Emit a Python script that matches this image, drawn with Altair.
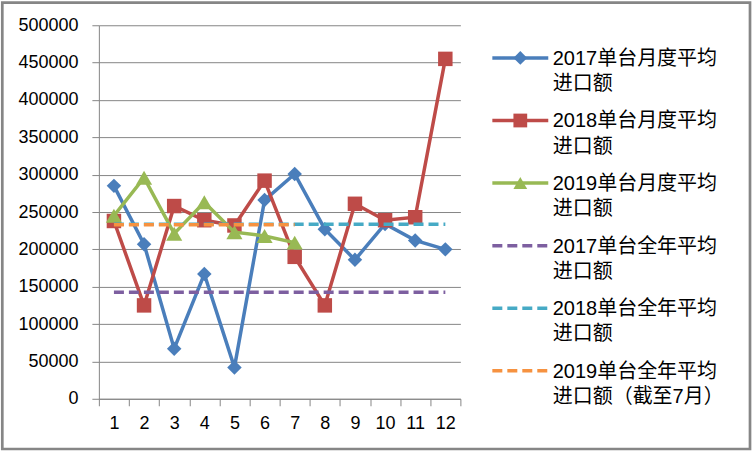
import altair as alt
import pandas as pd

# ---------------- data ----------------
months = list(range(1, 13))
v2017 = [285000, 207000, 67000, 167000, 42000, 266000, 301000, 227000, 186000, 234000, 212000, 200000]
v2018 = [238000, 125000, 258000, 239000, 232000, 292000, 190000, 125000, 261000, 239000, 243000, 455000]
v2019 = [245000, 296000, 221000, 263000, 223000, 218000, 209000]
avg2017 = 142500
avg2018 = 233500
avg2019 = 233000
avg2019_months = 7

keys = ["m2017", "m2018", "m2019", "a2017", "a2018", "a2019"]
labels = [
    "2017单台月度平均\n进口额",
    "2018单台月度平均\n进口额",
    "2019单台月度平均\n进口额",
    "2017单台全年平均\n进口额",
    "2018单台全年平均\n进口额",
    "2019单台全年平均\n进口额（截至7月）",
]
colors = ["#4A7EBB", "#BE4B48", "#98B954", "#7D5FA0", "#46AAC5", "#F69240"]
shapes = ["diamond", "square", "triangle-up"]

FONT = "Liberation Sans, Noto Sans CJK SC"
GRAY = "#868686"

# ---------------- main plot ----------------
X = alt.X(
    "month:O",
    scale=alt.Scale(type="band", paddingInner=0, paddingOuter=0),
    axis=alt.Axis(title=None, labelAngle=0, tickBand="extent", grid=False,
                  tickSize=7, labelPadding=9, labelFontSize=18),
)
Y = alt.Y(
    "value:Q",
    scale=alt.Scale(domain=[0, 500000], nice=False, zero=True),
    axis=alt.Axis(title=None, values=list(range(0, 500001, 50000)), format="d",
                  tickSize=7, labelPadding=14, labelFontSize=18, grid=True),
)

layers = []
monthly = [v2017, v2018, v2019]
msizes = [210, 210, 260]
for i, vals in enumerate(monthly):
    df = pd.DataFrame({"month": months[:len(vals)], "value": vals})
    base = alt.Chart(df).encode(x=X, y=Y)
    layers.append(base.mark_line(color=colors[i], strokeWidth=3.5))
    layers.append(base.mark_point(shape=shapes[i], filled=True, size=msizes[i],
                                  color=colors[i], opacity=1))

avgs = [(avg2017, 12), (avg2018, 12), (avg2019, avg2019_months)]
for j, (a, n) in enumerate(avgs):
    df = pd.DataFrame({"month": months[:n], "value": [a] * n})
    layers.append(alt.Chart(df).mark_line(color=colors[3 + j], strokeWidth=3.5,
                                          strokeDash=[10, 5]).encode(x=X, y=Y))

# outer chart-area border (decoration)
border = alt.Chart(pd.DataFrame({"b": [0]})).mark_rect(
    fill=None, stroke=GRAY, strokeWidth=2.7
).encode(x=alt.value(-96.7), x2=alt.value(652), y=alt.value(-22.7), y2=alt.value(424.3))

main = alt.layer(border, *layers).properties(width=362, height=374)

# ---------------- legend panel ----------------
leg = pd.DataFrame({"idx": list(range(6)), "key": keys, "label": labels})
LX = alt.Scale(domain=[0, 1], range=[0, 56])
LY = alt.Scale(domain=[0, 5], range=[32.7, 346], nice=False, zero=False)

lrule = alt.Chart(leg).mark_rule(strokeWidth=3.5).encode(
    x=alt.X(datum=0, type="quantitative", scale=LX, axis=None),
    x2=alt.X2(datum=1),
    y=alt.Y("idx:Q", scale=LY, axis=None),
    color=alt.Color("key:N", scale=alt.Scale(domain=keys, range=colors), legend=None),
    strokeDash=alt.StrokeDash("key:N", scale=alt.Scale(domain=keys, range=[[1, 0]] * 3 + [[10, 5]] * 3),
                              legend=None),
)
lpts = alt.Chart(leg).transform_filter(alt.datum.idx < 3).mark_point(
    filled=True, opacity=1, size=190
).encode(
    x=alt.X(datum=0.5, type="quantitative", scale=LX, axis=None),
    y=alt.Y("idx:Q", scale=LY, axis=None),
    color=alt.Color("key:N", scale=alt.Scale(domain=keys, range=colors), legend=None),
    shape=alt.Shape("key:N", scale=alt.Scale(domain=keys[:3], range=shapes), legend=None),
)
ltext = alt.Chart(leg).mark_text(
    align="left", baseline="alphabetic", dx=4.5, dy=7, lineBreak="\n",
    lineHeight=25.3, font=FONT, fontSize=20, color="#000000"
).encode(
    x=alt.X(datum=1, type="quantitative", scale=LX, axis=None),
    y=alt.Y("idx:Q", scale=LY, axis=None),
    text="label:N",
)
legend = alt.layer(lrule, lpts, ltext).properties(width=240, height=374)

chart = alt.hconcat(main, legend, spacing=32, bounds="flush").properties(
    padding=0, background="white"
).resolve_scale(color="independent", x="independent", y="independent").configure_view(
    stroke=None
).configure_axis(
    labelFont=FONT, labelColor="#000000", domainColor=GRAY, tickColor=GRAY,
    gridColor=GRAY, domainWidth=1, tickWidth=1, gridWidth=1
)

chart.save("out.html", embed_options={"renderer": "svg", "actions": False})
